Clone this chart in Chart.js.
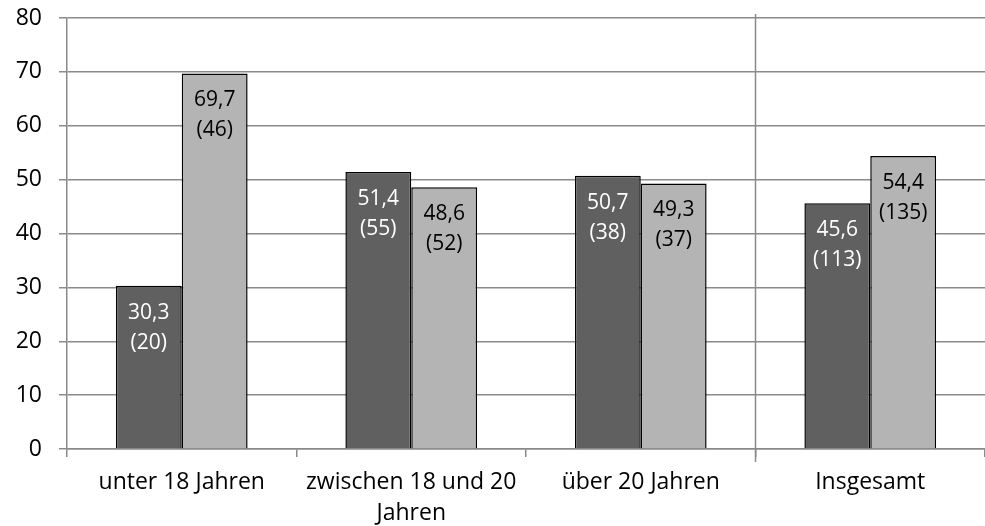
<!DOCTYPE html>
<html>
<head>
<meta charset="utf-8">
<script src="https://cdn.jsdelivr.net/npm/chart.js@4/dist/chart.umd.min.js"></script>
<style>
  html, body { margin: 0; padding: 0; background: #fff; }
  #wrap { width: 985px; height: 526px; position: relative; }
</style>
</head>
<body>
<div id="wrap"><canvas id="chart"></canvas></div>
<script>
  var categories = ['unter 18 Jahren', ['zwischen 18 und 20', 'Jahren'], 'über 20 Jahren', 'Insgesamt']
  var darkValues = [30.3, 51.4, 50.7, 45.6]
  var darkCounts = [20, 55, 38, 113]
  var lightValues = [69.7, 48.6, 49.3, 54.4]
  var lightCounts = [46, 52, 37, 135]

  var FONT = "'Open Sans', sans-serif"
  var GRID = '#8a8a8a'

  function fmt(v) {
    return v.toFixed(1).replace('.', ',')
  }

  // value labels inside the top of each bar
  var barLabels = {
    id: 'barLabels',
    afterDatasetsDraw: function (chart) {
      var ctx = chart.ctx
      ctx.save()
      ctx.font = '21px ' + FONT
      ctx.textAlign = 'center'
      ctx.textBaseline = 'middle'
      chart.data.datasets.forEach(function (ds, di) {
        var meta = chart.getDatasetMeta(di)
        ctx.fillStyle = di === 0 ? '#ffffff' : '#000000'
        meta.data.forEach(function (bar, i) {
          ctx.fillText(fmt(ds.data[i]), bar.x, bar.y + 27)
          ctx.fillText('(' + ds.counts[i] + ')', bar.x, bar.y + 57)
        })
      })
      ctx.restore()
    }
  }

  // vertical separator before "Insgesamt"
  var separator = {
    id: 'separator',
    afterDraw: function (chart) {
      var xs = chart.scales.x
      var area = chart.chartArea
      var x = (xs.getPixelForValue(2) + xs.getPixelForValue(3)) / 2
      var ctx = chart.ctx
      ctx.save()
      ctx.strokeStyle = GRID
      ctx.lineWidth = 1.5
      ctx.beginPath()
      ctx.moveTo(x, area.top - 4)
      ctx.lineTo(x, area.bottom + 13)
      ctx.stroke()
      ctx.restore()
    }
  }

  new Chart(document.getElementById('chart'), {
    type: 'bar',
    data: {
      labels: categories,
      datasets: [{
        data: darkValues,
        counts: darkCounts,
        backgroundColor: '#606060',
        borderColor: '#000000',
        borderWidth: 1.5
      }, {
        data: lightValues,
        counts: lightCounts,
        backgroundColor: '#b4b4b4',
        borderColor: '#000000',
        borderWidth: 1.5
      }]
    },
    options: {
      responsive: true,
      maintainAspectRatio: false,
      animation: false,
      layout: { padding: { top: 18, right: 0, left: 0, bottom: 0 } },
      plugins: {
        legend: { display: false },
        tooltip: { enabled: false }
      },
      datasets: {
        bar: { categoryPercentage: 0.574, barPercentage: 1.0 }
      },
      scales: {
        x: {
          afterFit: function (scale) {
            scale.paddingLeft = 0
            scale.paddingRight = 0
            scale.height = 77
          },
          grid: {
            offset: true,
            drawOnChartArea: false,
            drawTicks: true,
            tickLength: 8,
            color: GRID,
            lineWidth: 1.5
          },
          border: { color: GRID, width: 1.5 },
          ticks: {
            color: '#000',
            font: { family: FONT, size: 23, lineHeight: 1.35 },
            padding: 10,
            maxRotation: 0,
            autoSkip: false
          }
        },
        y: {
          min: 0,
          max: 80,
          afterFit: function (scale) {
            scale.paddingTop = 0
            scale.paddingBottom = 0
            scale.width = 67
          },
          ticks: {
            stepSize: 10,
            color: '#000',
            font: { family: FONT, size: 23 },
            padding: 17
          },
          grid: {
            color: GRID,
            lineWidth: 1.5,
            tickLength: 8
          },
          border: { color: GRID, width: 1.5 }
        }
      }
    },
    plugins: [barLabels, separator]
  })
</script>
</body>
</html>
